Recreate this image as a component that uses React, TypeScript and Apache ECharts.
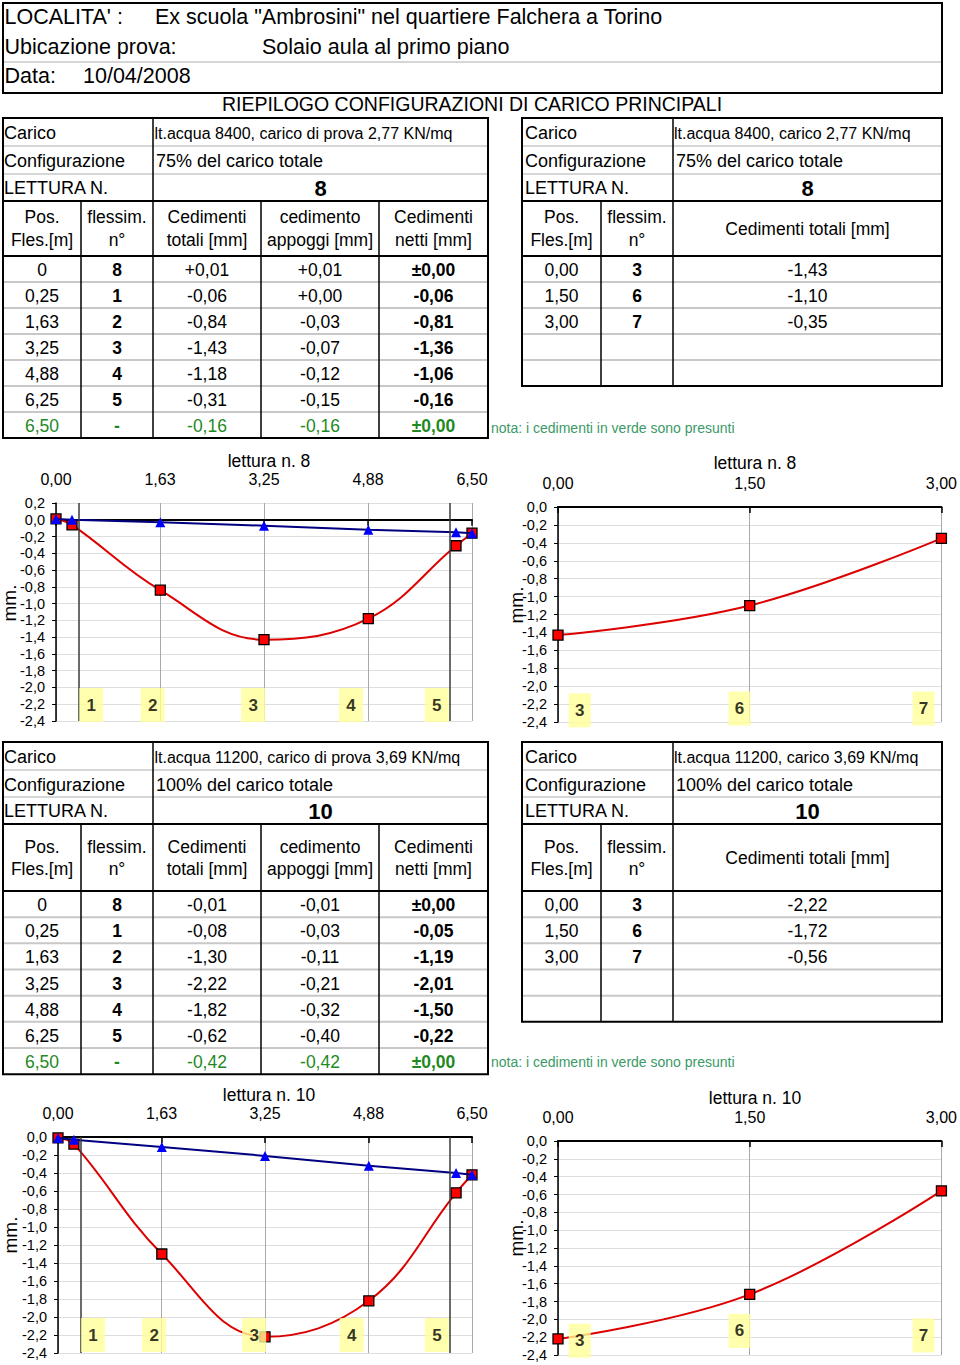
import React, { useEffect, useRef } from "react";
import * as echarts from "echarts";

const FONT = '"Liberation Sans", Arial, Helvetica, sans-serif';
const GRAY = "#c8c8c8";
const GREEN = "#1f8a1f";
const NOTE_GREEN = "#3a9a66";

// ---------- header texts ----------
const localita = 'Ex scuola "Ambrosini" nel quartiere Falchera a Torino';
const ubicazione = "Solaio aula al primo piano";
const dataProva = "10/04/2008";
const riepilogo = "RIEPILOGO CONFIGURAZIONI DI CARICO PRINCIPALI";
const nota = "nota: i cedimenti in verde sono presunti";

// ---------- readings ----------
const letture = ["8", "10"];
const caricoMain = [
  "lt.acqua 8400, carico di prova 2,77 KN/mq",
  "lt.acqua 11200, carico di prova 3,69 KN/mq",
];
const caricoCross = ["lt.acqua 8400, carico 2,77 KN/mq", "lt.acqua 11200, carico 3,69 KN/mq"];
const configurazioni = ["75% del carico totale", "100% del carico totale"];

// ---------- main span data ----------
const posLabels = ["0", "0,25", "1,63", "3,25", "4,88", "6,25", "6,50"];
const posValues = [0, 0.25, 1.63, 3.25, 4.88, 6.25, 6.5];
const flessimLabels = ["8", "1", "2", "3", "4", "5", "-"];
const l8Totali = [0.01, -0.06, -0.84, -1.43, -1.18, -0.31, -0.16];
const l8Appoggi = [0.01, 0.0, -0.03, -0.07, -0.12, -0.15, -0.16];
const l8Netti = [0, -0.06, -0.81, -1.36, -1.06, -0.16, 0];
const l10Totali = [-0.01, -0.08, -1.3, -2.22, -1.82, -0.62, -0.42];
const l10Appoggi = [-0.01, -0.03, -0.11, -0.21, -0.32, -0.4, -0.42];
const l10Netti = [0, -0.05, -1.19, -2.01, -1.5, -0.22, 0];

// ---------- cross span data ----------
const crossPos = [0, 1.5, 3];
const crossFlessim = ["3", "6", "7"];
const l8Cross = [-1.43, -1.1, -0.35];
const l10Cross = [-2.22, -1.72, -0.56];

// ---------- chart annotations ----------
const supportPos = [0.35, 6.15];
const mainLabelNums = ["1", "2", "3", "4", "5"];
const mainLabelX = [0.55, 1.51, 3.08, 4.61, 5.95];
const l8MainLabelY = [-2.21, -2.21, -2.21, -2.21, -2.21];
const l10MainLabelY = [-2.2, -2.2, -2.2, -2.2, -2.2];
const crossLabelNums = ["3", "6", "7"];
const crossLabelX = [0.17, 1.42, 2.86];
const l8CrossLabelY = [-2.27, -2.25, -2.25];
const l10CrossLabelY = [-2.24, -2.13, -2.18];

const fmt2 = (v: number) => Math.abs(v).toFixed(2).replace(".", ",");
const signed = (v: number) => (v >= 0 ? "+" : "-") + fmt2(v);
const netFmt = (v: number) => (v === 0 ? "±" : v > 0 ? "+" : "-") + fmt2(v);
const crossFmt = (v: number) => (v < 0 ? "-" : "") + fmt2(v);
const axisFmt2 = (v: number) => v.toFixed(2).replace(".", ",");
const axisFmt1 = (v: number) => (Math.abs(v) < 1e-9 ? "0,0" : v.toFixed(1).replace(".", ","));

function buildGraphics() {
  const g: any[] = [];
  const T = (x: number, y: number, text: string, o: any = {}) =>
    g.push({
      type: "text",
      x,
      y,
      rotation: o.rot || 0,
      silent: true,
      style: {
        text,
        fill: o.color || "#000",
        fontSize: o.size || 17.5,
        fontWeight: o.bold ? "bold" : "normal",
        fontFamily: FONT,
        textAlign: o.align || "left",
        textVerticalAlign: "middle",
        align: o.align || "left",
        verticalAlign: "middle",
      },
    });
  const L = (x1: number, y1: number, x2: number, y2: number, color: string, w: number) =>
    g.push({ type: "line", silent: true, shape: { x1, y1, x2, y2 }, style: { stroke: color, lineWidth: w } });
  const B = (x: number, y: number, w: number, h: number, lw: number) =>
    g.push({
      type: "rect",
      silent: true,
      shape: { x, y, width: w, height: h },
      style: { fill: "none", stroke: "#000", lineWidth: lw },
    });

  // header box
  L(3, 62, 942, 62, GRAY, 1.5);
  B(3, 3, 939, 90, 2);
  T(4.5, 17, "LOCALITA' :", { size: 21.5 });
  T(155, 17, localita, { size: 21.5 });
  T(4.5, 47, "Ubicazione prova:", { size: 21.5 });
  T(262, 47, ubicazione, { size: 21.5 });
  T(4.5, 76, "Data:", { size: 21.5 });
  T(83, 76, dataProva, { size: 21.5 });
  T(472, 104, riepilogo, { size: 19.5, align: "center" });

  const layouts = [
    { top: 118, l1: 146, l2: 174, hTop: 201, hBot: 256, rowH: 26, tY: [133, 161, 188], hY: [217, 240, 229], noteY: 428 },
    { top: 742, l1: 770, l2: 797, hTop: 824, hBot: 891, rowH: 26.17, tY: [757, 785, 811], hY: [847, 869, 858], noteY: 1062 },
  ];
  const totals = [l8Totali, l10Totali];
  const appoggi = [l8Appoggi, l10Appoggi];
  const netti = [l8Netti, l10Netti];
  const crossVals = [l8Cross, l10Cross];

  layouts.forEach((t, r) => {
    // ---- left (main) table ----
    const rowsM = posLabels.length;
    const botM = t.hBot + rowsM * t.rowH;
    L(3, t.l1, 488, t.l1, GRAY, 1.5);
    L(3, t.l2, 488, t.l2, GRAY, 1.5);
    for (let k = 1; k < rowsM; k++) {
      const y = t.hBot + k * t.rowH;
      L(3, y, 488, y, GRAY, 2);
    }
    L(3, t.hTop, 488, t.hTop, "#000", 2);
    L(3, t.hBot, 488, t.hBot, "#000", 2);
    L(153, t.top, 153, botM, "#000", 1.5);
    [81, 261, 379].forEach((x) => L(x, t.hTop, x, botM, "#000", 1.5));
    B(3, t.top, 485, botM - t.top, 2);

    T(4, t.tY[0], "Carico", { size: 18 });
    T(154.5, t.tY[0], caricoMain[r], { size: 16 });
    T(4, t.tY[1], "Configurazione", { size: 18 });
    T(156, t.tY[1], configurazioni[r], { size: 18 });
    T(4, t.tY[2], "LETTURA N.", { size: 18 });
    T(320.5, t.tY[2], letture[r], { bold: true, size: 22, align: "center" });

    const hc = [42, 117, 207, 320, 433.5];
    const hl = [
      ["Pos.", "Fles.[m]"],
      ["flessim.", "n°"],
      ["Cedimenti", "totali [mm]"],
      ["cedimento", "appoggi [mm]"],
      ["Cedimenti", "netti [mm]"],
    ];
    hc.forEach((x, i) => {
      T(x, t.hY[0], hl[i][0], { align: "center" });
      T(x, t.hY[1], hl[i][1], { align: "center" });
    });
    for (let k = 0; k < rowsM; k++) {
      const y = t.hBot + k * t.rowH + t.rowH / 2 + 1;
      const color = k === rowsM - 1 ? GREEN : "#000";
      T(hc[0], y, posLabels[k], { align: "center", color });
      T(hc[1], y, flessimLabels[k], { align: "center", color, bold: true });
      T(hc[2], y, signed(totals[r][k]), { align: "center", color });
      T(hc[3], y, signed(appoggi[r][k]), { align: "center", color });
      T(hc[4], y, netFmt(netti[r][k]), { align: "center", color, bold: true });
    }

    // ---- right (cross) table ----
    const rowsC = 5;
    const botC = t.hBot + rowsC * t.rowH;
    L(522, t.l1, 942, t.l1, GRAY, 1.5);
    L(522, t.l2, 942, t.l2, GRAY, 1.5);
    for (let k = 1; k < rowsC; k++) {
      const y = t.hBot + k * t.rowH;
      L(522, y, 942, y, GRAY, 2);
    }
    L(522, t.hTop, 942, t.hTop, "#000", 2);
    L(522, t.hBot, 942, t.hBot, "#000", 2);
    L(673, t.top, 673, botC, "#000", 1.5);
    L(601, t.hTop, 601, botC, "#000", 1.5);
    B(522, t.top, 420, botC - t.top, 2);

    T(525, t.tY[0], "Carico", { size: 18 });
    T(674, t.tY[0], caricoCross[r], { size: 16 });
    T(525, t.tY[1], "Configurazione", { size: 18 });
    T(676, t.tY[1], configurazioni[r], { size: 18 });
    T(525, t.tY[2], "LETTURA N.", { size: 18 });
    T(807.5, t.tY[2], letture[r], { bold: true, size: 22, align: "center" });
    T(561.5, t.hY[0], "Pos.", { align: "center" });
    T(561.5, t.hY[1], "Fles.[m]", { align: "center" });
    T(637, t.hY[0], "flessim.", { align: "center" });
    T(637, t.hY[1], "n°", { align: "center" });
    T(807.5, t.hY[2], "Cedimenti totali [mm]", { align: "center" });
    for (let k = 0; k < crossPos.length; k++) {
      const y = t.hBot + k * t.rowH + t.rowH / 2 + 1;
      T(561.5, y, fmt2(crossPos[k]), { align: "center" });
      T(637, y, crossFlessim[k], { align: "center", bold: true });
      T(807.5, y, crossFmt(crossVals[r][k]), { align: "center" });
    }

    T(491, t.noteY, nota, { size: 14, color: NOTE_GREEN });
  });

  // chart titles & axis names
  T(269, 461, "lettura n. 8", { size: 17.5, align: "center" });
  T(755, 463, "lettura n. 8", { size: 17.5, align: "center" });
  T(269, 1095, "lettura n. 10", { size: 17.5, align: "center" });
  T(755, 1098, "lettura n. 10", { size: 17.5, align: "center" });
  T(9, 603, "mm.", { size: 19, align: "center", rot: Math.PI / 2 });
  T(516, 605, "mm.", { size: 19, align: "center", rot: Math.PI / 2 });
  T(10, 1235, "mm.", { size: 19, align: "center", rot: Math.PI / 2 });
  T(516, 1238, "mm.", { size: 19, align: "center", rot: Math.PI / 2 });
  return g;
}

function buildOption() {
  const grid: any[] = [];
  const xAxis: any[] = [];
  const yAxis: any[] = [];
  const series: any[] = [];
  const specs: any[] = [
    { g: { left: 56, top: 503, width: 416, height: 218 }, xMax: 6.5, xInt: 1.625, yMax: 0.2, main: true, tot: l8Totali, app: l8Appoggi, lx: mainLabelX, ly: l8MainLabelY, ln: mainLabelNums },
    { g: { left: 558, top: 507, width: 384, height: 215 }, xMax: 3, xInt: 1.5, yMax: 0, main: false, tot: l8Cross, lx: crossLabelX, ly: l8CrossLabelY, ln: crossLabelNums },
    { g: { left: 58, top: 1137, width: 414, height: 216 }, xMax: 6.5, xInt: 1.625, yMax: 0, main: true, tot: l10Totali, app: l10Appoggi, lx: mainLabelX, ly: l10MainLabelY, ln: mainLabelNums },
    { g: { left: 558, top: 1141, width: 384, height: 214 }, xMax: 3, xInt: 1.5, yMax: 0, main: false, tot: l10Cross, lx: crossLabelX, ly: l10CrossLabelY, ln: crossLabelNums },
  ];
  specs.forEach((s, i) => {
    grid.push({ ...s.g, containLabel: false });
    xAxis.push({
      type: "value", gridIndex: i, position: "top", min: 0, max: s.xMax, interval: s.xInt,
      axisLine: { show: false, onZero: false },
      axisTick: { show: false },
      axisLabel: { margin: 16, fontSize: 16, color: "#000", fontFamily: FONT, formatter: axisFmt2 },
      splitLine: { show: true, lineStyle: { color: "#a8a8a8", width: 1 } },
    });
    xAxis.push({
      type: "value", gridIndex: i, position: "top", min: 0, max: s.xMax, interval: s.xInt,
      axisLine: { show: true, onZero: true, lineStyle: { color: "#000", width: 2 } },
      axisTick: { show: true, inside: true, length: 6, lineStyle: { color: "#000", width: 1.5 } },
      axisLabel: { show: false },
      splitLine: { show: false },
    });
    yAxis.push({
      type: "value", gridIndex: i, min: -2.4, max: s.yMax, interval: 0.2,
      axisLine: { show: true, onZero: false, lineStyle: { color: "#000", width: 1.5 } },
      axisTick: { show: true, length: 4, lineStyle: { color: "#000", width: 1 } },
      axisLabel: { margin: 11, fontSize: 14.5, color: "#000", fontFamily: FONT, formatter: axisFmt1 },
      splitLine: { show: true, lineStyle: { color: "#dedede", width: 1 } },
    });
    const xi = 2 * i;
    const xs = s.main ? posValues : crossPos;
    series.push({
      type: "line", xAxisIndex: xi, yAxisIndex: i,
      data: xs.map((x: number, k: number) => [x, s.tot[k]]),
      smooth: 0.4, symbol: "rect", symbolSize: 10, clip: false, silent: true,
      lineStyle: { color: "#dd0000", width: 2 },
      itemStyle: { color: "#ff0000", borderColor: "#000", borderWidth: 1.3 },
      z: 3,
    });
    if (s.app) {
      series.push({
        type: "line", xAxisIndex: xi, yAxisIndex: i,
        data: posValues.map((x, k) => [x, s.app[k]]),
        symbol: "triangle", symbolSize: 10, clip: false, silent: true,
        lineStyle: { color: "#000080", width: 2 },
        itemStyle: { color: "#0000ff" },
        z: 4,
      });
    }
    series.push({
      type: "scatter", xAxisIndex: xi, yAxisIndex: i,
      data: s.lx.map((x: number, k: number) => ({ value: [x, s.ly[k]], name: s.ln[k] })),
      symbol: "rect", symbolSize: s.main ? [24, 34] : [22, 34], clip: false, silent: true,
      itemStyle: { color: "#ffff99" },
      label: { show: true, position: "inside", formatter: "{b}", fontSize: 17, fontWeight: "bold", color: "#000", fontFamily: FONT },
      z: 5,
      markLine: s.main
        ? {
            silent: true, symbol: ["none", "none"], label: { show: false },
            lineStyle: { color: "#3a3a3a", width: 1.5, type: "solid" },
            data: supportPos.map((x) => ({ xAxis: x })),
          }
        : undefined,
    });
  });
  return {
    animation: false,
    backgroundColor: "#fff",
    textStyle: { fontFamily: FONT },
    grid, xAxis, yAxis, series,
    graphic: { elements: buildGraphics() },
  };
}

export default function App() {
  const ref = useRef<HTMLDivElement>(null);
  useEffect(() => {
    if (!ref.current) return;
    const chart = echarts.init(ref.current, null, { renderer: "svg" });
    chart.setOption(buildOption() as any);
    return () => chart.dispose();
  }, []);
  return (
    <div
      ref={ref}
      style={{ position: "absolute", left: 0, top: 0, width: 960, height: 1365, background: "#fff" }}
    />
  );
}
